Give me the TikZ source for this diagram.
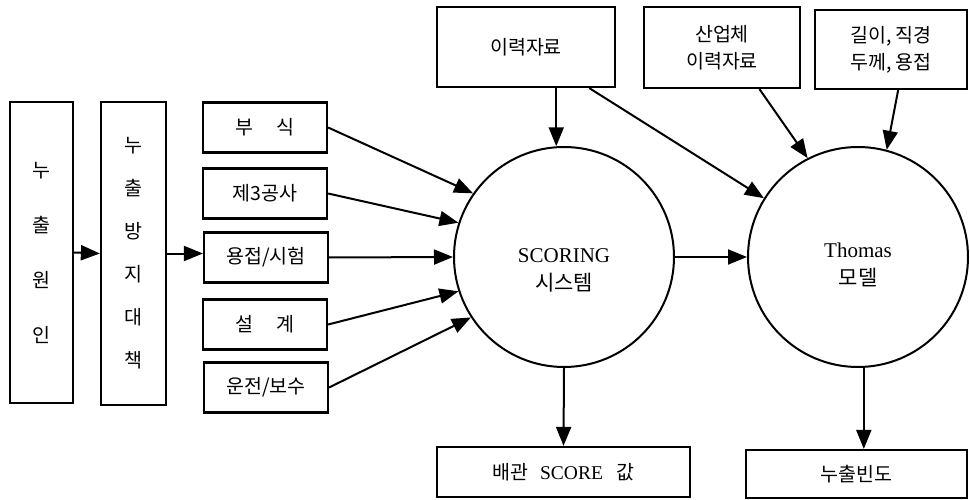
\documentclass[tikz,border=0pt]{standalone}
\usepackage{fontspec}
\setmainfont{Liberation Serif}
\newfontfamily\kr{Noto Sans CJK KR}
\usetikzlibrary{arrows.meta}

\begin{document}
\begin{tikzpicture}[x=1pt, y=-1pt,
  box/.style = {draw, line width=2.2pt, minimum width=124pt,
    minimum height=50pt, inner sep=0pt, align=center,
    font=\kr\fontsize{19.5}{27}\selectfont},
  circ/.style = {draw, circle, line width=2pt, minimum size=220pt},
  ctext/.style = {align=center, font=\fontsize{21}{28}\selectfont},
  arr/.style = {-{Triangle[length=19pt,width=15pt]}, line width=2pt}]
  \useasboundingbox (0,0) rectangle (970,500);

  % left column
  \node[box, minimum width=63pt, minimum height=301pt,
    font=\kr\fontsize{19.5}{55}\selectfont] (cause) at (41.5,252.5) {누\\출\\원\\인};
  \node[box, minimum width=65pt, minimum height=303pt,
    font=\kr\fontsize{19.5}{43}\selectfont] (measure) at (133.5,253.5) {누\\출\\방\\지\\대\\책};

  % countermeasures
  \node[box] (corr)   at (265,127.5) {부\hspace{1.2em}식};
  \node[box] (third)  at (265,193.5) {제3공사};
  \node[box] (weld)   at (266,257.5) {용접/시험};
  \node[box] (design) at (265,324.5) {설\hspace{1.2em}계};
  \node[box] (oper)   at (266,387.5) {운전/보수};

  % inputs on top
  \node[box, minimum width=178pt, minimum height=80pt] (hist) at (526,47) {이력자료};
  \node[box, minimum width=156pt, minimum height=81pt] (ind) at (722,47.5) {산업체\\이력자료};
  \node[box, minimum width=152pt, minimum height=79pt] (dims) at (891,49.5) {길이, 직경\\두께, 용접};

  % models
  \node[circ] (scoring) at (564,257) {};
  \node[ctext] (scoringtxt) at (564,270) {SCORING\\{\kr 시스템}};
  \node[circ] (thomas) at (858,257) {};
  \node[ctext] (thomastxt) at (858,265) {Thomas\\{\kr 모델}};

  % results
  \node[box, minimum width=253pt] (score) at (563.5,472) {배관\hspace{0.6em}{\rmfamily SCORE}\hspace{0.7em}값};
  \node[box, minimum width=221pt, minimum height=48pt] (freq) at (856.5,474) {누출빈도};

  \draw[arr] (cause.east) -- (measure.west);
  \draw[arr] (measure.east) -- (measure.east -| weld.west);
  \foreach \n/\a in {corr/145, third/162, weld/180, design/198, oper/213}
    \draw[arr] (\n.east) -- (scoring.\a);
  \draw[arr] (hist.south -| scoring.94) -- (scoring.94);
  \draw[arr] (hist.-33) -- (thomas.148);
  \draw[arr] (ind.-48) -- (thomas.117);
  \draw[arr] (dims.-80) -- (thomas.75);
  \draw[arr] (scoring) -- (thomas);
  \draw[arr] (scoring.south) -- (score.north);
  \draw[arr] (thomas.-87) -- (thomas.-87 |- freq.north);
\end{tikzpicture}
\end{document}
